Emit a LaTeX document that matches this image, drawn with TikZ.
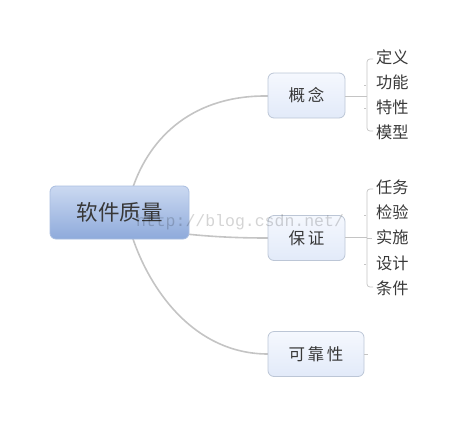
\documentclass[tikz,border=0pt]{standalone}
\usepackage{fontspec}
\newfontfamily\cjk{Noto Sans CJK SC}
\newfontfamily\wmfont{Liberation Mono}
\usetikzlibrary{calc}
\definecolor{linegray}{HTML}{C4C4C4}
\definecolor{txt}{HTML}{383838}
\definecolor{ctop}{HTML}{CBD9F1}
\definecolor{cbot}{HTML}{8EAADB}
\definecolor{cborder}{HTML}{A9BDE0}
\definecolor{ktop}{HTML}{F5F8FE}
\definecolor{kbot}{HTML}{E2EAF9}
\definecolor{kborder}{HTML}{BCC6D6}
\tikzset{
  central/.style={draw=cborder, line width=0.8pt, rounded corners=6pt,
    top color=ctop, bottom color=cbot, minimum width=139pt, minimum height=53pt,
    inner sep=0pt, font=\cjk\fontsize{21.5}{24}\selectfont, text=txt},
  child/.style={draw=kborder, line width=0.8pt, rounded corners=6pt,
    top color=ktop, bottom color=kbot, minimum height=45pt,
    inner sep=0pt, font=\cjk\fontsize{16.5}{18}\selectfont, text=txt},
  leaf/.style={anchor=west, inner sep=0pt, font=\cjk\fontsize{16.2}{18}\selectfont, text=txt},
  branch/.style={draw=linegray, line width=1.6pt},
  thin/.style={draw=linegray, line width=0.7pt},
}
\begin{document}
\begin{tikzpicture}[x=1pt,y=-1pt]
\useasboundingbox (0,0) rectangle (461,424);
% connectors (behind nodes)
\coordinate (c1) at (132,190);
\coordinate (c2) at (132,236);
\coordinate (c3) at (186,234);
\draw[branch] (c1) .. controls (150,135) and (195,95) .. (268,96);
\draw[branch] (c2) .. controls (150,291) and (195,354) .. (268,354);
\draw[branch] (c3) .. controls (215,237) and (240,238) .. (268,238);
% nodes
\node[central] (root) at (119.5,212.5) {软件质量};
\node[child, minimum width=77pt] (gn) at (306.5,95.5) {概\,念};
\node[child, minimum width=77pt] (bz) at (306.5,238) {保\,证};
\node[child, minimum width=96pt] (kk) at (316,354) {可\,靠\,性};
% leaves of 概念
\node[leaf] (a1) at (376,57) {定义};
\node[leaf] (a2) at (376,82) {功能};
\node[leaf] (a3) at (376,107) {特性};
\node[leaf] (a4) at (376,132) {模型};
% leaves of 保证
\node[leaf] (b1) at (376,187) {任务};
\node[leaf] (b2) at (376,212) {检验};
\node[leaf] (b3) at (376,237) {实施};
\node[leaf] (b4) at (376,263) {设计};
\node[leaf] (b5) at (376,288) {条件};
% brackets for 概念
\coordinate (ga) at (367,96);
\draw[thin] (gn.east |- ga) -- (ga);
\draw[thin] ($(a1.west)+(-3,2)$) -- ++(-2,0) [rounded corners=3pt] -- ++(-4,0) -- ($(a4.west)+(-9,-1)$) -- ++(6,0);
\draw[thin] ($(a2.west)+(-10,3)$) -- ++(-2,0);
\draw[thin] ($(a3.west)+(-10,1)$) -- ++(-2,0);
% brackets for 保证
\coordinate (ba) at (367,237);
\draw[thin] (bz.east |- ba) -- (ba);
\draw[thin] ($(b1.west)+(-3,2)$) -- ++(-2,0) [rounded corners=3pt] -- ++(-4,0) -- ($(b5.west)+(-9,-1)$) -- ++(6,0);
\draw[thin] ($(b2.west)+(-10,3)$) -- ++(-2,0);
\draw[thin] ($(b3.west)+(-9,1)$) -- ++(5,0);
\draw[thin] ($(b4.west)+(-10,1)$) -- ++(-2,0);
% stub of 可靠性
\coordinate (ks) at (368,354);
\draw[thin] (kk.east) -- (ks);
% watermark
\node[text=black, opacity=0.17, font=\wmfont\fontsize{16.5}{18}\selectfont, inner sep=0pt] (wm) at (240,222) {http://blog.csdn.net/};
\end{tikzpicture}
\end{document}
